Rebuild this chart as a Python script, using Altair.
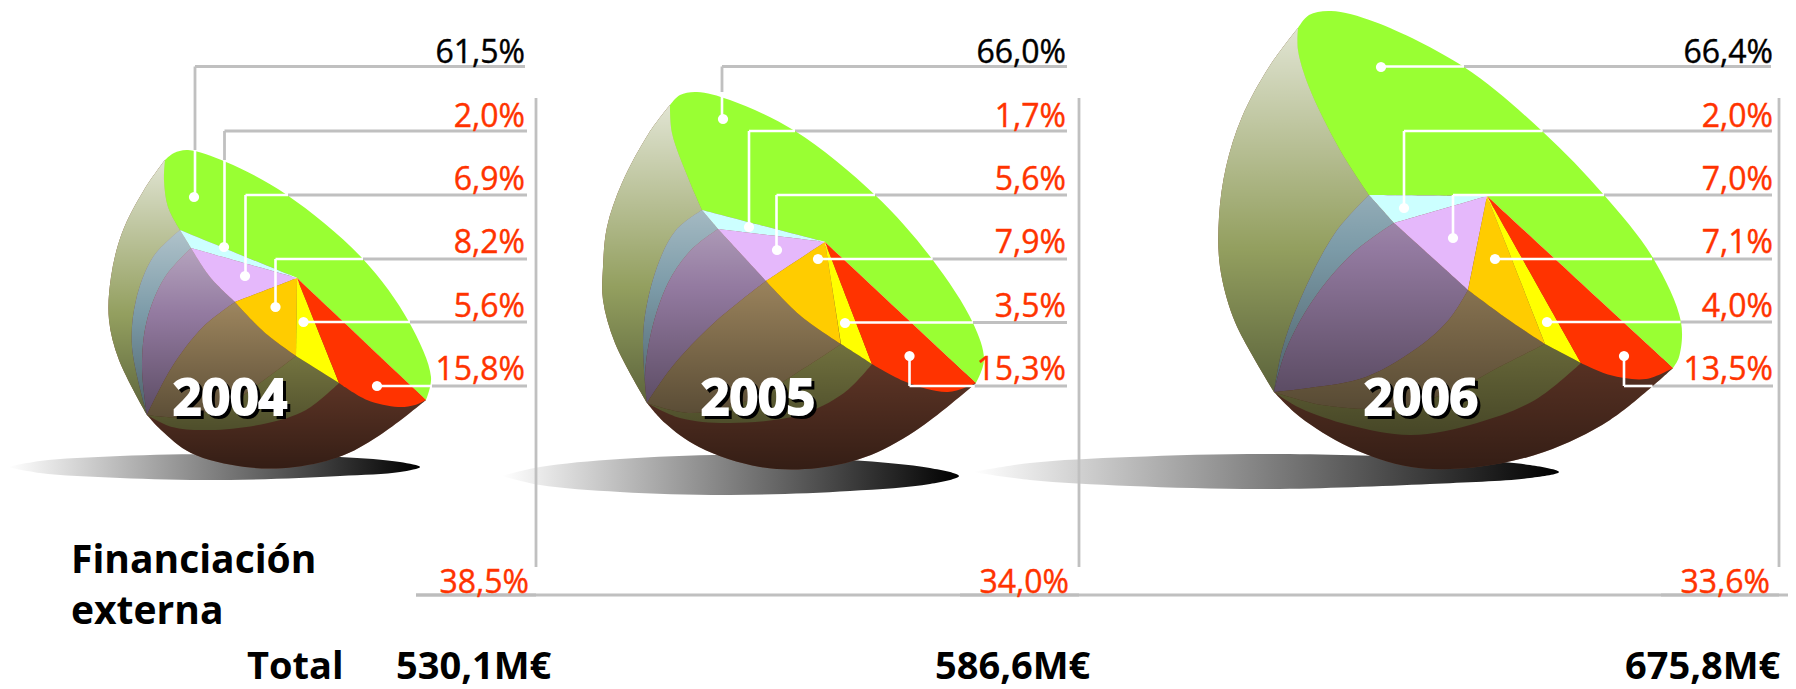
import altair as alt
import pandas as pd

YEARS = ["2004", "2005", "2006"]

# Outlines of the three drawn "balls", in picture pixels
CURVES_2004 = dict(
    outer_left=[(165,160),(144,190),(122,233),(111,277),(109,320),(119,360),(147,415)],
    outer_bottom=[(147,415),(161,430),(191,453),(245,467),(295,467),(344,455),(383,433),(426,400)],
    face_top=[(165,160),(174,153),(188,150),(226,162),(287,195),(362,258),(409,322),(431,377),(426,400)],
    green_inner=[(180,230),(168,207),(164,180),(165,160)],
    rim_bd=[(191,248),(210,277),(235,302)],
    rim_de=[(235,302),(264,332),(296,356)],
    rim_fg=[(339,383),(367,400),(398,407),(415,405),(426,400)],
    back1=[(180,230),(153,257),(136,300),(132,347),(147,415)],
    back2=[(191,248),(165,277),(147,320),(142,367),(147,415)],
    back3=[(235,302),(203,327),(172,367),(147,415)],
    back4=[(296,356),(264,380),(230,403),(184,417),(147,415)],
    back5=[(339,383),(306,410),(268,423),(210,430),(172,427),(147,415)],
    center=(297,278),
)
CURVES_2005 = dict(
    outer_left=[(670,105),(649,133),(622,183),(607,227),(603,267),(603,300),(615,343),(647,403)],
    outer_bottom=[(647,403),(665,423),(699,447),(760,467),(818,468),(871,455),(921,427),(976,383)],
    face_top=[(670,105),(680,95),(697,92),(730,100),(795,131),(875,195),(932,259),(973,323),(984,360),(976,383)],
    green_inner=[(702,210),(689,180),(672,133),(670,105)],
    rim_bd=[(718,229),(766,281)],
    rim_de=[(766,281),(802,317),(841,344)],
    rim_fg=[(872,364),(906,382),(948,392),(976,383)],
    back1=[(702,210),(676,230),(657,267),(644,323),(644,370),(647,403)],
    back2=[(718,229),(691,250),(668,283),(651,333),(645,377),(647,403)],
    back3=[(766,281),(714,323),(672,367),(647,403)],
    back4=[(841,344),(806,367),(749,400),(691,413),(647,403)],
    back5=[(872,364),(844,393),(799,415),(730,423),(680,418),(647,403)],
    center=(825,242),
)
CURVES_2006 = dict(
    outer_left=[(1298,28),(1269,67),(1242,117),(1226,167),(1219,217),(1220,267),(1233,317),(1251,353),(1274,392)],
    outer_bottom=[(1274,392),(1300,417),(1349,447),(1411,467),(1477,467),(1544,452),(1610,420),(1673,368)],
    face_top=[(1298,28),(1309,15),(1331,11),(1375,22),(1464,67),(1542,131),(1604,195),(1653,258),(1681,322),(1679,357),(1673,368)],
    green_inner=[(1369,195),(1340,150),(1309,87),(1298,50),(1298,28)],
    rim_bd=[(1394,223),(1468,290)],
    rim_de=[(1468,290),(1506,318),(1545,344)],
    rim_fg=[(1581,363),(1610,375),(1646,379),(1673,368)],
    back1=[(1369,195),(1335,233),(1300,300),(1282,350),(1274,392)],
    back2=[(1394,223),(1353,253),(1313,300),(1286,350),(1274,392)],
    back3=[(1468,290),(1451,317),(1424,343),(1366,377),(1309,388),(1274,392)],
    back4=[(1545,344),(1499,367),(1455,390),(1389,408),(1322,405),(1274,392)],
    back5=[(1581,363),(1535,400),(1477,423),(1411,435),(1349,425),(1300,408),(1274,392)],
    center=(1487,196),
)

SHADOW_2004 = [(8,467),(40,461),(120,456),(230,454),(340,457),(400,462),(420,467),(400,472),(340,476),(230,480),(120,478),(40,473),(8,467)]
SHADOW_2005 = [(502,476),(540,467),(620,459),(730,455),(850,460),(930,468),(959,476),(930,484),(850,491),(730,495),(620,492),(540,485),(502,476)]
SHADOW_2006 = [(973,472),(1030,463),(1130,457),(1270,454),(1430,458),(1530,465),(1559,472),(1530,478),(1430,484),(1270,489),(1130,486),(1030,480),(973,472)]

FACE_COLORS = dict(green="#99ff33", cyan="#ccffff", purple="#e5b8fb", orange="#ffcc00", yellow="#ffff00", red="#ff3300")
BACK_COLORS = dict(ball="#7c4632", green="#939f5f", cyan="#7c9ba8", purple="#937aa0", orange="#97805a", yellow="#8a8a4c")

LABELS_2004 = ["61,5%", "2,0%", "6,9%", "8,2%", "5,6%", "15,8%"]
LABELS_2005 = ["66,0%", "1,7%", "5,6%", "7,9%", "3,5%", "15,3%"]
LABELS_2006 = ["66,4%", "2,0%", "7,0%", "7,1%", "4,0%", "13,5%"]
LABEL_BASELINES = [63, 127, 190, 253, 317, 380]
LABEL_RIGHT = [525, 1066, 1773]
EXTERNAL = ["38,5%", "34,0%", "33,6%"]
EXTERNAL_RIGHT = [529, 1069, 1770]
TOTALS = ["530,1M€", "586,6M€", "675,8M€"]
TOTALS_LEFT = [396, 935, 1625]
YEAR_CENTER = [230, 758, 1421]

DOTS_X = [194,224,245,275.5,303.5,377, 723,749,777,818,845,909.5, 1381,1404,1453,1495,1547,1624]
DOTS_Y = [197,247,276,307,322,386, 119,227,250,259,323,356, 67,208,238,259,322,356]

GREY_SEGMENTS = [
    (525,66.5,195,66.5),(195,66.5,195,150),(527,131,224.5,131),(224.5,131,224.5,160),
    (527,195,288,195),(527,259,363,259),(527,322,410,322),(527,386,432,386),
    (1067,66.5,722,66.5),(722,66.5,722,92),(1067,131,795,131),(1067,195,875,195),
    (1067,259,932.5,259),(1067,322.5,973,322.5),(1067,386,974.5,386),
    (1771,66.5,1464,66.5),(1772,131,1542.5,131),(1772,195,1604,195),
    (1772,259,1652,259),(1772,322,1680.5,322),(1773,386,1652.5,386),
    (536,98,536,567),(1079,98,1079,567),(1779,98,1779,567),
    (416,595,1788,595),
]
DARK_SEGMENTS = [(416,595,536,595),(960,595,1079,595),(1661,595,1779,595)]
WHITE_SEGMENTS = [
    (195,150,195,197),(224.5,160,224.5,247),(288,195,245.5,195),(245.5,195,245.5,276),
    (363,259,275.5,259),(275.5,259,275.5,307),(410,322,303.5,322),(432,386,377,386),
    (722,92,722,119),(795,131,749,131),(749,131,749,227),(875,195,776.5,195),(776.5,195,776.5,250),
    (932.5,259,818,259),(973,322.5,845,322.5),(974.5,386,909.5,386),(909.5,386,909.5,356),
    (1464,66.5,1381,66.5),(1542.5,131,1404,131),(1404,131,1404,208),(1604,195,1453,195),(1453,195,1453,238),
    (1652,259,1495,259),(1680.5,322,1547,322),(1652.5,386,1624,386),(1624,386,1624,356),
]


def path(*segments):
    pts = []
    for seg in segments:
        pts.extend(seg)
    return pts


def polygons(year, c):
    ctr = c["center"]
    T = c["outer_left"][0]
    tip = c["outer_bottom"][-1]
    a = c["green_inner"][0]
    b = c["rim_bd"][0]
    d = c["rim_bd"][-1]
    e = c["rim_de"][-1]
    f = c["rim_fg"][0]
    rv = lambda s: s[::-1]
    outline = path(c["outer_left"], c["outer_bottom"], [tip, T])
    backs = [
        ("ball", outline),
        ("green", path(c["outer_left"], rv(c["back1"]), c["green_inner"])),
        ("cyan", path([a, b], c["back2"], rv(c["back1"]))),
        ("purple", path(c["rim_bd"], c["back3"], rv(c["back2"]))),
        ("orange", path(c["rim_de"], c["back4"], rv(c["back3"]))),
        ("yellow", path([e, f], c["back5"], rv(c["back4"]))),
    ]
    faces = [
        ("green", path(c["face_top"], [tip, ctr], [ctr, a], c["green_inner"])),
        ("cyan", path([ctr, a], [a, b], [b, ctr])),
        ("purple", path([ctr, b], c["rim_bd"], [d, ctr])),
        ("orange", path([ctr, d], c["rim_de"], [e, ctr])),
        ("yellow", path([ctr, e], [e, f], [f, ctr])),
        ("red", path([ctr, f], c["rim_fg"], [tip, ctr])),
    ]
    return outline, backs, faces


back_rows, face_rows, outlines = [], [], {}
poly_id = 0
for year, curves in zip(YEARS, [CURVES_2004, CURVES_2005, CURVES_2006]):
    outline, backs, faces = polygons(year, curves)
    outlines[year] = outline
    for name, pts in backs:
        poly_id += 1
        back_rows += [dict(pid=f"{poly_id:03d}", seq=i, x=p[0], y=p[1], color=BACK_COLORS[name]) for i, p in enumerate(pts)]
    for name, pts in faces:
        poly_id += 1
        face_rows += [dict(pid=f"{poly_id:03d}", seq=i, x=p[0], y=p[1], color=FACE_COLORS[name]) for i, p in enumerate(pts)]

PLOT_W, PLOT_H = 1780, 681
X = alt.X("x:Q", axis=None, title=None, scale=alt.Scale(domain=[8, 8 + PLOT_W], nice=False, zero=False))
Y = alt.Y("y:Q", axis=None, title=None, scale=alt.Scale(domain=[8 + PLOT_H, 8], nice=False, zero=False))


def points_df(pts):
    return pd.DataFrame([dict(seq=i, x=p[0], y=p[1]) for i, p in enumerate(pts)])


def seg_df(segs):
    return pd.DataFrame(segs, columns=["x", "y", "x2", "y2"])


def gradient(stops, horizontal=False):
    return alt.LinearGradient(
        gradient="linear",
        stops=[alt.GradientStop(color=c, offset=o) for o, c in stops],
        x1=0, x2=1 if horizontal else 0, y1=0, y2=0 if horizontal else 1,
    )


def filled_curve(df, **mark):
    return alt.Chart(df).mark_line(interpolate="catmull-rom", strokeOpacity=0, **mark)


SHADOW_FILL = gradient([(0, "#ffffff"), (1, "#000000")], horizontal=True)
SHADE_FILL = gradient([
    (0, "rgba(255,255,255,0.72)"), (0.5, "rgba(255,255,255,0.0)"),
    (0.5, "rgba(0,0,0,0.0)"), (1, "rgba(0,0,0,0.58)"),
])

layers = []
for shadow in [SHADOW_2004, SHADOW_2005, SHADOW_2006]:
    layers.append(filled_curve(points_df(shadow), fill=SHADOW_FILL).encode(x=X, y=Y, order="seq:Q"))


def rules(segs, color, width):
    return alt.Chart(seg_df(segs)).mark_rule(color=color, strokeWidth=width).encode(
        x=X, y=Y, x2="x2:Q", y2="y2:Q")


layers.append(rules(GREY_SEGMENTS, "#c0c0c0", 2.8))
layers.append(rules(DARK_SEGMENTS, "#bdbdbd", 3.2))

layers.append(
    filled_curve(pd.DataFrame(back_rows)).encode(
        x=X, y=Y, order="seq:Q", detail="pid:N", fill=alt.Fill("color:N", scale=None, legend=None))
)
for year in YEARS:
    layers.append(filled_curve(points_df(outlines[year]), fill=SHADE_FILL).encode(x=X, y=Y, order="seq:Q"))
layers.append(
    filled_curve(pd.DataFrame(face_rows)).encode(
        x=X, y=Y, order="seq:Q", detail="pid:N", fill=alt.Fill("color:N", scale=None, legend=None))
)

layers.append(rules(WHITE_SEGMENTS, "#ffffff", 2.6))
layers.append(
    alt.Chart(pd.DataFrame(dict(x=DOTS_X, y=DOTS_Y))).mark_circle(color="#ffffff", opacity=1, size=105).encode(x=X, y=Y)
)

FONT = "Open Sans"


def texts(rows, **mark):
    return alt.Chart(pd.DataFrame(rows, columns=["x", "y", "t"])).mark_text(
        font=FONT, baseline="alphabetic", **mark).encode(x=X, y=Y, text="t:N")


black_rows, red_rows = [], []
for labels, right in zip([LABELS_2004, LABELS_2005, LABELS_2006], LABEL_RIGHT):
    black_rows.append((right, LABEL_BASELINES[0], labels[0]))
    red_rows += [(right, b, t) for b, t in zip(LABEL_BASELINES[1:], labels[1:])]
red_rows += [(x, 593, t) for x, t in zip(EXTERNAL_RIGHT, EXTERNAL)]

layers.append(texts(black_rows, align="right", fontSize=32, color="#000000", stroke="#000000", strokeWidth=0.4))
layers.append(texts(red_rows, align="right", fontSize=32, color="#ff3300", stroke="#ff3300", strokeWidth=0.4))

heading_rows = [(71, 573, "Financiación"), (71, 624, "externa")]
layers.append(texts(heading_rows, align="left", fontSize=39, fontWeight="bold", color="#000000"))
total_rows = [(247, 679, "Total")] + [(x, 679, t) for x, t in zip(TOTALS_LEFT, TOTALS)]
layers.append(texts(total_rows, align="left", fontSize=38, fontWeight="bold", color="#000000"))

year_rows = [(x, 415, y) for x, y in zip(YEAR_CENTER, YEARS)]
layers.append(texts(year_rows, align="center", fontSize=50, fontWeight="bold", color="#000000",
                    stroke="#000000", strokeWidth=2, dx=3, dy=3))
layers.append(texts(year_rows, align="center", fontSize=50, fontWeight="bold", color="#ffffff",
                    stroke="#ffffff", strokeWidth=2))

chart = alt.layer(*layers).properties(
    width=PLOT_W, height=PLOT_H, padding=0, autosize=alt.AutoSizeParams(type="none")
).configure_view(stroke=None)

chart.save("out.html", embed_options={"renderer": "svg", "actions": False})
